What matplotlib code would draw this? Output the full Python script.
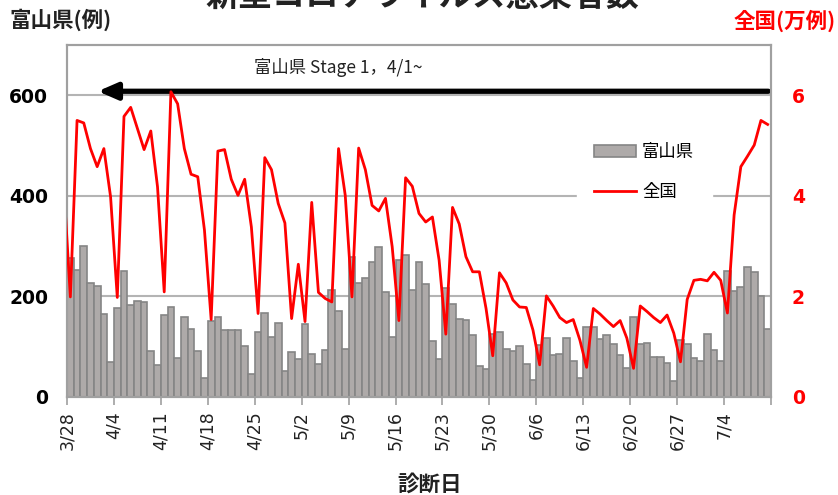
import matplotlib
matplotlib.use("Agg")
import matplotlib.pyplot as plt
from matplotlib.patches import FancyArrowPatch
import numpy as np

plt.rcParams['font.family'] = ['Noto Sans CJK JP', 'DejaVu Sans']

# 富山県 daily cases, 3/28 .. 7/10
toyama = [276, 252, 300, 226, 220, 166, 70, 177, 251, 182,
          190, 189, 92, 64, 163, 179, 77, 159, 136, 91,
          38, 151, 160, 134, 134, 133, 101, 46, 129, 167,
          120, 148, 52, 90, 76, 146, 86, 66, 94, 213,
          171, 96, 278, 226, 236, 268, 298, 208, 119, 273,
          282, 213, 268, 225, 111, 76, 216, 184, 155, 153,
          124, 62, 56, 125, 130, 96, 91, 101, 66, 34,
          103, 117, 83, 86, 118, 71, 38, 140, 139, 115,
          124, 106, 84, 57, 159, 106, 107, 79, 80, 68,
          32, 114, 105, 78, 71, 125, 94, 72, 250, 210,
          218, 258, 248, 200, 135]

# 全国 daily cases (万), 3/27 .. 7/10 (3/27 lies just left of the axis)
national = [4.25,
            1.99, 5.50, 5.45, 4.94, 4.58, 4.94, 3.98, 1.98, 5.58, 5.76,
            5.34, 4.92, 5.29, 4.18, 2.09, 6.07, 5.83, 4.94, 4.43, 4.38,
            3.32, 1.54, 4.89, 4.92, 4.33, 4.01, 4.33, 3.38, 1.66, 4.76,
            4.52, 3.85, 3.46, 1.56, 2.64, 1.50, 3.87, 2.08, 1.96, 1.89,
            4.94, 4.01, 1.99, 4.95, 4.52, 3.81, 3.70, 3.95, 2.99, 1.52,
            4.36, 4.19, 3.65, 3.48, 3.58, 2.72, 1.25, 3.77, 3.44, 2.79,
            2.49, 2.49, 1.76, 0.82, 2.47, 2.27, 1.93, 1.79, 1.78, 1.33,
            0.64, 2.01, 1.81, 1.58, 1.48, 1.54, 1.13, 0.59, 1.76, 1.65,
            1.52, 1.40, 1.52, 1.17, 0.57, 1.81, 1.70, 1.58, 1.48, 1.63,
            1.27, 0.70, 1.94, 2.32, 2.34, 2.31, 2.48, 2.32, 1.67, 3.62,
            4.58, 4.79, 5.01, 5.50, 5.42]

week_labels = ["3/28", "4/4", "4/11", "4/18", "4/25", "5/2", "5/9", "5/16",
               "5/23", "5/30", "6/6", "6/13", "6/20", "6/27", "7/4"]

left_ticks = [0, 200, 400, 600]
right_ticks = [0, 2, 4, 6]

W, H = 838, 495
fig = plt.figure(figsize=(W / 100, H / 100), dpi=100)
L, R, T, B = 67, 771, 45, 397
ax = fig.add_axes([L / W, 1 - B / H, (R - L) / W, (B - T) / H])
ax2 = ax.twinx()

n = len(toyama)
x = np.arange(n)
grid_c = '#B4B4B4'
frame_c = '#A0A0A0'

ax.set_zorder(1)
ax2.set_zorder(2)
ax2.patch.set_visible(False)

for v in left_ticks[1:]:
    ax.axhline(v, color=grid_c, lw=1.5, zorder=0)

ax.bar(x, toyama, width=1.0, color='#AEAAA9', edgecolor='#858585', linewidth=1.2,
       zorder=2, label='富山県')
xn = np.arange(-1, n)
ax2.plot(xn, national, color='#FF0000', lw=2.0, zorder=3, label='全国')

ax.set_xlim(-0.5, n - 0.5)
ax2.set_xlim(-0.5, n - 0.5)
ax.set_ylim(0, 700)
ax2.set_ylim(0, 7)

ax.set_yticks(left_ticks)
ax.set_yticklabels([str(v) for v in left_ticks], fontsize=13.5, fontweight='bold',
                   family='DejaVu Sans', color='black')
ax2.set_yticks(right_ticks)
ax2.set_yticklabels([str(v) for v in right_ticks], fontsize=13.5, fontweight='bold',
                    family='DejaVu Sans', color='#FF0000')
ax.tick_params(axis='y', length=0, pad=13.5)
ax2.tick_params(axis='y', length=0, pad=15)

tick_pos = [i * 7 - 0.5 for i in range(len(week_labels))] + [n - 0.5]
ax.set_xticks(tick_pos)
ax.set_xticklabels(week_labels + [''], rotation=90, fontsize=12.5, family='DejaVu Sans',
                   color='#222222')
ax.tick_params(axis='x', length=6, width=1.2, color=frame_c, pad=4)
ax2.tick_params(axis='x', length=0)

for a in (ax, ax2):
    for s in a.spines.values():
        s.set_color(frame_c)
        s.set_linewidth(1.5)

# arrow annotation
arr = FancyArrowPatch((n - 0.9, 608), (4.1, 608), arrowstyle='-|>,head_length=1.15,head_width=0.5',
                      mutation_scale=10, color='black', lw=3.8, shrinkA=0, shrinkB=0,
                      transform=ax.transData, zorder=5, clip_on=False)
ax.add_patch(arr)
ax.text(40.0, 655, '富山県 Stage 1，4/1~', ha='center', va='center', fontsize=12.5,
        color='#222222', zorder=5)

# legend
h1, l1 = ax.get_legend_handles_labels()
h2, l2 = ax2.get_legend_handles_labels()
ax2.legend(h1 + h2, l1 + l2, loc='upper left',
           bbox_to_anchor=(577 / W, 1 - 126 / H), bbox_transform=fig.transFigure,
           frameon=True, fancybox=False, framealpha=1, edgecolor='white',
           facecolor='white', fontsize=12.5, handlelength=2.4, handleheight=0.7,
           handletextpad=0.35, labelspacing=1.25, borderpad=1.0, borderaxespad=0)

# axis titles
fig.text(9 / W, 1 - 20 / H, '富山県(例)', ha='left', va='center', fontsize=15.5,
         fontweight='bold', color='#222222')
fig.text(836 / W, 1 - 21 / H, '全国(万例)', ha='right', va='center', fontsize=15.5,
         fontweight='bold', color='#FF0000')
fig.text(430 / W, 1 - 484 / H, '診断日', ha='center', va='center', fontsize=15.5,
         fontweight='bold', color='#222222')
fig.text(422 / W, 1 - 6 / H, '新型コロナウイルス感染者数', ha='center', va='baseline',
         fontsize=24, fontweight='bold', color='#222222')

fig.savefig('out.png', dpi=100)
